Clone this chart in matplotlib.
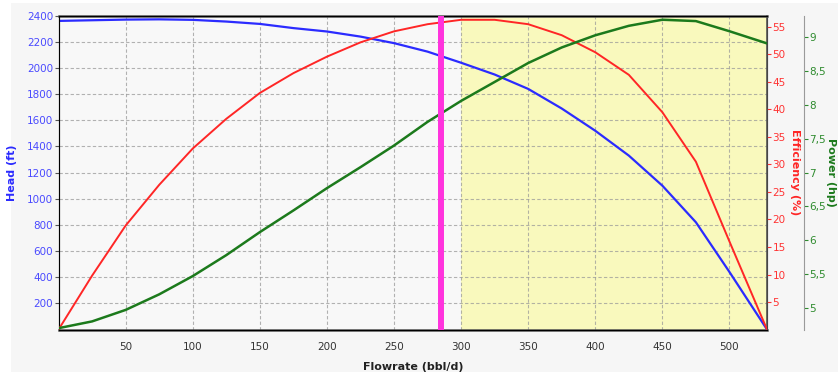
#!/usr/bin/env python3
"""Pump performance curve: head, efficiency and power against flowrate."""

import matplotlib
matplotlib.use("Agg")
import matplotlib.pyplot as plt
from matplotlib.patches import Rectangle
from matplotlib.ticker import FuncFormatter

# Curve data
flowrate = [0, 25, 50, 75, 100, 125, 150, 175, 200, 225, 250, 275, 300,
            325, 350, 375, 400, 425, 450, 475, 500, 528]
head_ft = [2360, 2365, 2370, 2372, 2368, 2355, 2337, 2305, 2279, 2240, 2190, 2125, 2040,
           1950, 1840, 1690, 1520, 1330, 1100, 820, 440, 0]
efficiency_pct = [0, 9.8, 18.9, 26.3, 32.9, 38.3, 43.0, 46.6, 49.6, 52.2, 54.2, 55.5, 56.3,
                  56.3, 55.5, 53.5, 50.4, 46.3, 39.5, 30.5, 16.0, 0]
power_hp = [4.70, 4.80, 4.97, 5.20, 5.47, 5.78, 6.12, 6.44, 6.77, 7.08, 7.40, 7.75, 8.06,
            8.34, 8.62, 8.85, 9.03, 9.17, 9.26, 9.24, 9.09, 8.91]

operating_point = 285          # magenta marker
recommended_range = (300, 528) # yellow band

x_ticks = list(range(50, 501, 50))
head_ticks = list(range(200, 2401, 200))
eff_ticks = list(range(5, 56, 5))
power_ticks = [5, 5.5, 6, 6.5, 7, 7.5, 8, 8.5, 9]

BLUE = "#2b2bff"
RED = "#ff2626"
GREEN = "#1c7a1c"
FS = 7.5

fig = plt.figure(figsize=(8.38, 3.75), dpi=100, facecolor="white")
fig.patches.append(Rectangle((0.013, 0.008), 0.987, 0.985, transform=fig.transFigure,
                             facecolor="#f6f6f6", edgecolor="none", zorder=-10))

ax = fig.add_axes([0.0699, 0.1213, 0.8454, 0.8369])
ax.set_facecolor("#f8f8f8")
ax2 = ax.twinx()
ax3 = ax.twinx()
ax3.spines["right"].set_position(("axes", 1.052))

# recommended operating range
ax.axvspan(*recommended_range, color="#f9f9bd", zorder=0, lw=0)

ax.grid(True, which="major", color="#9a9a9a", linestyle=(0, (3, 2)), linewidth=0.8, alpha=0.75)
ax.set_axisbelow(True)

ax.plot(flowrate, head_ft, color=BLUE, linewidth=1.6, zorder=3)
ax2.plot(flowrate, efficiency_pct, color=RED, linewidth=1.4, zorder=3)
ax3.plot(flowrate, power_hp, color=GREEN, linewidth=1.8, zorder=3)
ax3.axvline(operating_point, color="#ff33dd", linewidth=4.3, zorder=5)

ax.set_xlim(0, recommended_range[1])
ax.set_ylim(0, 2400)
ax2.set_ylim(0, 57.05)
ax3.set_ylim(4.68, 9.32)

ax.set_xticks(x_ticks)
ax.set_yticks(head_ticks)
ax2.set_yticks(eff_ticks)
ax3.set_yticks(power_ticks)
ax3.yaxis.set_major_formatter(FuncFormatter(lambda v, p: f"{v:g}".replace(".", ",")))

ax.tick_params(axis="x", length=0, pad=9, labelsize=FS, labelcolor="#333333")
ax.tick_params(axis="y", length=3, pad=1, labelsize=FS, labelcolor="#4a4aff", color="#555555")
ax2.tick_params(axis="y", length=3, pad=1, labelsize=FS, labelcolor="#ff3333", color="#ff3333")
ax3.tick_params(axis="y", length=3, pad=1, labelsize=FS, labelcolor="#2e8b2e", color="#2e8b2e")

for a in (ax2, ax3):
    a.patch.set_visible(False)
for name in ("top", "bottom", "left"):
    ax3.spines[name].set_visible(False)
ax3.spines["right"].set_color("#9a9a9a")
for name in ("top", "bottom"):
    ax.spines[name].set_linewidth(1.8)
    ax.spines[name].set_color("#555555")
ax.spines["left"].set_color("#444444")
ax2.spines["right"].set_color("#555555")
ax2.spines["right"].set_linewidth(1.2)

ax.set_xlabel("Flowrate (bbl/d)", fontsize=FS + 0.5, fontweight="bold", color="#222222")
ax.xaxis.set_label_coords(0.5, -0.105)
ax.set_ylabel("Head (ft)", fontsize=FS + 0.5, fontweight="bold", color=BLUE)
ax.yaxis.set_label_coords(-0.059, 0.5)
ax2.set_ylabel("Efficiency (%)", fontsize=FS + 0.5, fontweight="bold", color=RED, rotation=270)
ax2.yaxis.set_label_coords(1.047, 0.5)
ax3.set_ylabel("Power (hp)", fontsize=FS + 0.5, fontweight="bold", color=GREEN, rotation=270)
ax3.yaxis.set_label_coords(1.098, 0.5)

fig.savefig("out.png", dpi=100, facecolor=fig.get_facecolor())
